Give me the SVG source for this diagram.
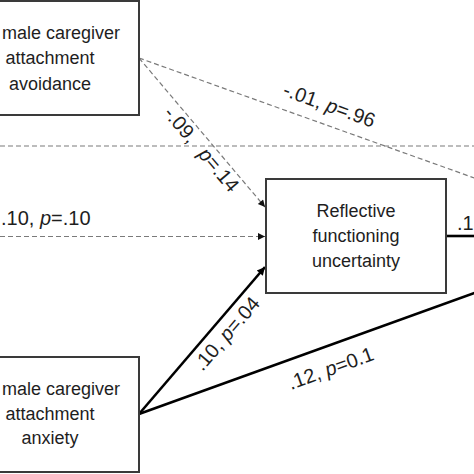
<svg xmlns="http://www.w3.org/2000/svg" width="474" height="474" viewBox="0 0 474 474">
  <style>
    .box { fill: #ffffff; stroke: #3a3a3a; stroke-width: 2; }
    .nt { font-family: "Liberation Sans", Arial, sans-serif; font-size: 18px; fill: #1e1e1e; text-anchor: middle; }
    .lbl { font-family: "Liberation Sans", Arial, sans-serif; font-size: 20px; fill: #1e1e1e; text-anchor: middle; }
    .dash { fill: none; stroke: #7a7a7a; stroke-width: 1.2; stroke-dasharray: 5 3; }
    .solid { fill: none; stroke: #000000; stroke-width: 2.6; }
    .it { font-style: italic; }
  </style>
  <defs>
    <marker id="ahd" viewBox="0 0 10 10" refX="10" refY="5" markerUnits="userSpaceOnUse" markerWidth="9" markerHeight="7" orient="auto">
      <path d="M0,0 L10,5 L0,10 z" fill="#111111"/>
    </marker>
    <marker id="ahs" viewBox="0 0 10 10" refX="10" refY="5" markerUnits="userSpaceOnUse" markerWidth="11" markerHeight="8" orient="auto">
      <path d="M0,0 L10,5 L0,10 z" fill="#000000"/>
    </marker>
  </defs>

  <g id="connectors">
    <line class="dash" x1="0" y1="146" x2="474" y2="146"/>
    <line class="dash" x1="139" y1="58" x2="480" y2="180"/>
    <line class="dash" x1="139" y1="58" x2="265" y2="207" marker-end="url(#ahd)"/>
    <line class="dash" x1="0" y1="236.5" x2="265" y2="236.5" marker-end="url(#ahd)"/>
    <line class="solid" x1="139" y1="414" x2="265" y2="267" marker-end="url(#ahs)"/>
    <line class="solid" x1="139" y1="414" x2="480" y2="291"/>
    <line class="solid" x1="446" y1="236" x2="474" y2="236"/>

    <g transform="translate(139,58) rotate(19.7)">
      <text class="lbl" x="195" y="-13">-.01, <tspan class="it">p</tspan>=.96</text>
    </g>
    <g transform="translate(139,58) rotate(49.8)">
      <text class="lbl" x="110" y="18">-.09, <tspan class="it" dx="8">p</tspan>=.14</text>
    </g>
    <g transform="translate(139,414) rotate(-49.4)">
      <text class="lbl" x="118" y="21">.10, <tspan class="it">p</tspan>=.04</text>
    </g>
    <g transform="translate(139,414) rotate(-19.86)">
      <text class="lbl" x="196" y="29">.12, <tspan class="it">p</tspan>=0.1</text>
    </g>
    <text class="lbl" x="1" y="225" style="text-anchor:start">.10, <tspan class="it">p</tspan>=.10</text>
    <text class="lbl" x="457" y="230" style="text-anchor:start">.1</text>
  </g>

  <g id="avoidance">
    <rect class="box" x="-5" y="1" width="144" height="114"/>
    <text class="nt" x="120" y="39" style="text-anchor:end">male caregiver</text>
    <text class="nt" x="50" y="64">attachment</text>
    <text class="nt" x="50" y="90">avoidance</text>
  </g>

  <g id="anxiety">
    <rect class="box" x="-5" y="357" width="144" height="115"/>
    <text class="nt" x="120" y="395" style="text-anchor:end">male caregiver</text>
    <text class="nt" x="50" y="420">attachment</text>
    <text class="nt" x="50" y="444">anxiety</text>
  </g>

  <g id="reflective">
    <rect class="box" x="266" y="179" width="180" height="114"/>
    <text class="nt" x="356" y="217">Reflective</text>
    <text class="nt" x="356" y="242">functioning</text>
    <text class="nt" x="356" y="267">uncertainty</text>
  </g>
</svg>
